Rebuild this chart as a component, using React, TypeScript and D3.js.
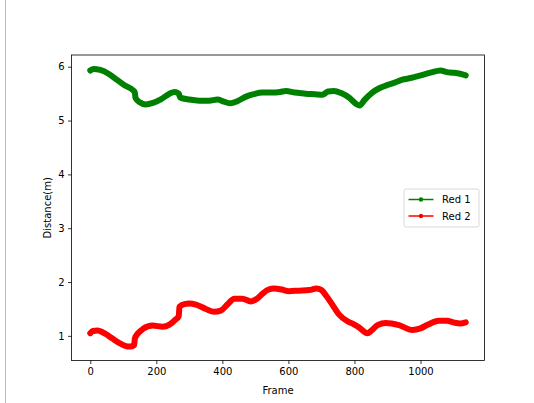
import React, { useEffect, useRef } from 'react';
import * as d3 from 'd3';

// Red 1 (green line): [frame, distance]
const red1Frames = [0, 10, 30, 55, 80, 105, 130, 135, 137, 150, 168, 190, 215, 240, 255, 268, 272, 300, 330, 360, 385, 405, 425, 445, 470, 495, 521, 550, 575, 592, 620, 653, 680, 703, 720, 738, 760, 785, 805, 816, 830, 854, 875, 895, 920, 945, 970, 995, 1030, 1061, 1080, 1096, 1120, 1137];
const red1Values = [5.93, 5.96, 5.94, 5.87, 5.76, 5.65, 5.56, 5.52, 5.42, 5.34, 5.30, 5.33, 5.40, 5.50, 5.53, 5.50, 5.43, 5.39, 5.37, 5.37, 5.39, 5.35, 5.32, 5.36, 5.44, 5.49, 5.52, 5.52, 5.53, 5.55, 5.52, 5.50, 5.49, 5.48, 5.54, 5.55, 5.51, 5.42, 5.31, 5.28, 5.38, 5.52, 5.60, 5.65, 5.70, 5.76, 5.79, 5.83, 5.89, 5.93, 5.90, 5.89, 5.87, 5.84];

// Red 2 (red line)
const red2Frames = [0, 8, 22, 45, 67, 90, 108, 120, 133, 135, 145, 160, 189, 219, 240, 258, 268, 270, 285, 300, 320, 350, 375, 395, 415, 436, 461, 486, 505, 521, 540, 557, 580, 602, 632, 663, 685, 700, 715, 733, 753, 779, 800, 815, 839, 852, 870, 895, 935, 975, 1000, 1020, 1056, 1080, 1100, 1120, 1137];
const red2Values = [1.05, 1.09, 1.10, 1.04, 0.95, 0.86, 0.81, 0.80, 0.83, 0.95, 1.05, 1.13, 1.19, 1.17, 1.21, 1.30, 1.37, 1.54, 1.59, 1.60, 1.58, 1.50, 1.45, 1.47, 1.58, 1.69, 1.69, 1.64, 1.69, 1.78, 1.86, 1.88, 1.86, 1.83, 1.84, 1.85, 1.88, 1.85, 1.74, 1.58, 1.40, 1.27, 1.21, 1.15, 1.05, 1.10, 1.20, 1.24, 1.20, 1.11, 1.14, 1.20, 1.28, 1.28, 1.25, 1.23, 1.25];

const xTicks = [0, 200, 400, 600, 800, 1000];
const yTicks = [1, 2, 3, 4, 5, 6];
const seriesNames = ['Red 1', 'Red 2'];
const seriesColors = ['#008000', '#ff0000'];

export default function App() {
  const ref = useRef<SVGSVGElement>(null);

  useEffect(() => {
    if (!ref.current) return;
    const svg = d3.select(ref.current);
    svg.selectAll('*').remove();

    const W = 534, H = 403;
    const left = 71.5, right = 484.5, top = 55, bottom = 360.5;
    const font = 'DejaVu Sans, sans-serif';

    const series = [
      red1Frames.map((f, i) => [f, red1Values[i]] as [number, number]),
      red2Frames.map((f, i) => [f, red2Values[i]] as [number, number]),
    ];

    const allX = series.flat().map(d => d[0]);
    const allY = series.flat().map(d => d[1]);
    const [x0, x1] = d3.extent(allX) as [number, number];
    const [y0, y1] = d3.extent(allY) as [number, number];
    const px = (x1 - x0) * 0.05, py = (y1 - y0) * 0.05;

    const x = d3.scaleLinear().domain([x0 - px, x1 + px]).range([left, right]);
    const y = d3.scaleLinear().domain([y0 - py, y1 + py]).range([bottom, top]);

    svg.append('rect').attr('width', W).attr('height', H).attr('fill', '#fff');
    // page edge line on the left
    svg.append('line').attr('x1', 5.5).attr('x2', 5.5).attr('y1', 0).attr('y2', H)
      .attr('stroke', '#bdbdbd').attr('stroke-width', 1);

    const line = d3.line<[number, number]>()
      .x(d => x(d[0]))
      .y(d => y(d[1]))
      .curve(d3.curveMonotoneX);

    series.forEach((s, i) => {
      svg.append('path')
        .datum(s)
        .attr('d', line)
        .attr('fill', 'none')
        .attr('stroke', seriesColors[i])
        .attr('stroke-width', 6)
        .attr('stroke-linecap', 'round')
        .attr('stroke-linejoin', 'round');
    });

    // axes frame
    svg.append('rect')
      .attr('x', left).attr('y', top)
      .attr('width', right - left).attr('height', bottom - top)
      .attr('fill', 'none').attr('stroke', '#000').attr('stroke-width', 0.8);

    const gx = svg.append('g').attr('transform', `translate(0,${bottom})`)
      .call(d3.axisBottom(x).tickValues(xTicks).tickFormat(d3.format('d'))
        .tickSize(3.5).tickPadding(3.5).tickSizeOuter(0));
    gx.select('.domain').remove();
    const gy = svg.append('g').attr('transform', `translate(${left},0)`)
      .call(d3.axisLeft(y).tickValues(yTicks).tickFormat(d3.format('d'))
        .tickSize(3.5).tickPadding(3.5).tickSizeOuter(0));
    gy.select('.domain').remove();

    svg.selectAll('.tick line').attr('stroke', '#000').attr('stroke-width', 0.8);
    svg.selectAll('.tick text')
      .attr('fill', '#000')
      .style('font-family', font)
      .style('font-size', '10px');

    svg.append('text')
      .attr('x', (left + right) / 2).attr('y', 394)
      .attr('text-anchor', 'middle')
      .style('font-family', font).style('font-size', '10px')
      .text('Frame');

    svg.append('text')
      .attr('transform', `translate(51,${(top + bottom) / 2}) rotate(-90)`)
      .attr('text-anchor', 'middle')
      .style('font-family', font).style('font-size', '10px')
      .text('Distance(m)');

    // legend
    const lg = svg.append('g').attr('transform', 'translate(404,189)');
    lg.append('rect')
      .attr('x', 0).attr('y', 0).attr('width', 75).attr('height', 38)
      .attr('rx', 2).attr('fill', '#fff').attr('fill-opacity', 0.8)
      .attr('stroke', '#d9d9d9').attr('stroke-width', 1);
    seriesNames.forEach((name, i) => {
      const yy = 10.5 + i * 16.5;
      lg.append('line').attr('x1', 4.5).attr('x2', 29.5).attr('y1', yy).attr('y2', yy)
        .attr('stroke', seriesColors[i]).attr('stroke-width', 1.5);
      lg.append('circle').attr('cx', 17).attr('cy', yy).attr('r', 2.2)
        .attr('fill', seriesColors[i]);
      lg.append('text').attr('x', 38).attr('y', yy + 3.6)
        .style('font-family', font).style('font-size', '10px')
        .text(name);
    });
  }, []);

  return (
    <svg ref={ref} width={534} height={403}
      style={{ position: 'absolute', left: 0, top: 0, display: 'block' }} />
  );
}
